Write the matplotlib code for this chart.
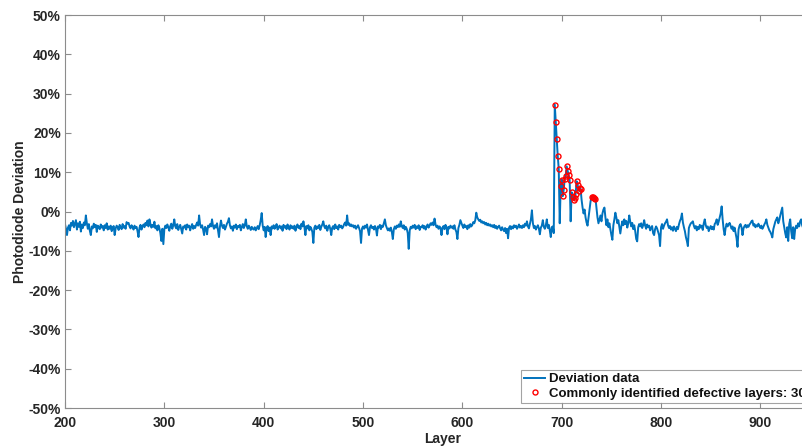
import numpy as np
import matplotlib
matplotlib.use("Agg")
import matplotlib.pyplot as plt
from matplotlib.ticker import FuncFormatter

plt.rcParams["font.family"] = ["Liberation Sans", "DejaVu Sans"]
plt.rcParams["font.weight"] = "bold"

# photodiode deviation per layer, in percent
dev_200 = [
    -3.2, -4.5, -6.0, -4.1, -3.5, -4.8, -2.9, -3.6, -2.4, -4.0,
    -3.1, -2.2, -4.6, -3.0, -3.9, -2.6, -5.1, -3.3, -4.2, -2.8,
    -3.5, -1.0, -3.0, -4.4, -3.2, -4.9, -6.0, -3.8, -4.3, -3.1,
    -4.0, -3.4, -5.2, -3.6, -3.9, -4.5, -3.3, -4.1, -3.7, -4.8,
    -3.5, -4.2, -3.0, -4.6, -3.8, -4.4, -3.6, -5.0, -4.1, -3.7,
    -6.0, -4.3, -3.6, -4.0, -4.7, -3.4, -3.9, -4.5, -3.2, -4.1,
    -3.7, -4.4, -2.7, -3.1, -2.9, -3.8, -4.3, -3.5, -4.0, -4.6,
    -3.6, -4.2, -3.9, -5.0, -6.5, -4.1, -3.4, -4.6, -3.8, -3.3,
    -4.0, -2.9, -3.5, -2.3, -3.8, -2.0, -3.2, -4.1, -3.4, -3.9,
    -2.6, -4.3, -3.7, -4.8, -3.5, -4.2, -5.5, -7.5, -4.4, -8.3,
]
dev_300 = [
    -4.5, -3.6, -4.2, -3.3, -4.0, -4.9, -3.7, -3.1, -4.4, -3.5,
    -2.0, -3.8, -4.3, -3.2, -4.7, -3.9, -3.4, -4.5, -5.6, -3.8,
    -4.1, -3.5, -4.6, -3.3, -4.0, -3.6, -4.8, -3.9, -3.2, -4.4,
    -3.7, -4.2, -3.4, -2.8, -3.6, -1.0, -3.3, -4.1, -3.5, -4.6,
    -6.0, -3.9, -4.3, -5.8, -3.6, -4.0, -3.2, -3.8, -2.0, -3.7,
    -4.4, -3.5, -4.1, -3.0, -4.7, -6.5, -3.8, -2.3, -3.6, -4.2,
    -3.4, -4.6, -3.9, -3.1, -2.6, -1.7, -3.5, -4.3, -3.8, -4.9,
    -3.6, -4.1, -3.3, -4.5, -3.7, -4.0, -3.4, -4.8, -3.9, -3.2,
    -4.2, -3.5, -2.0, -3.8, -4.4, -3.6, -4.1, -4.7, -3.9, -4.4,
    -4.6, -4.0, -4.8, -4.3, -3.7, -4.5, -3.5, -2.2, -0.4, -3.6,
]
dev_400 = [
    -4.8, -3.9, -6.5, -4.2, -3.7, -5.0, -4.1, -6.0, -3.8, -4.3,
    -3.5, -4.4, -3.9, -3.2, -4.6, -4.0, -3.6, -4.3, -3.8, -4.9,
    -3.4, -4.1, -3.7, -4.5, -3.3, -4.0, -4.6, -3.5, -4.2, -3.8,
    -4.4, -3.6, -4.9, -3.9, -3.3, -4.2, -3.7, -4.5, -3.1, -3.8,
    -2.5, -4.0, -6.0, -3.7, -4.3, -3.5, -4.8, -3.9, -4.4, -5.2,
    -8.0, -4.1, -3.6, -4.5, -3.8, -4.2, -3.4, -4.7, -3.9, -3.3,
    -2.5, -3.8, -4.3, -3.6, -4.9, -4.0, -3.5, -4.4, -6.0, -4.1,
    -3.7, -4.5, -3.3, -4.2, -3.8, -4.6, -3.4, -4.0, -3.6, -4.3,
    -3.9, -3.2, -2.8, -3.6, -1.0, -3.4, -3.0, -3.7, -3.3, -3.8,
    -3.5, -4.1, -3.6, -4.4, -3.9, -3.5, -4.2, -5.0, -8.0, -4.3,
]
dev_500 = [
    -3.8, -4.4, -3.6, -4.1, -3.3, -4.7, -6.0, -4.0, -3.5, -4.2,
    -3.9, -4.6, -3.7, -4.3, -6.1, -3.8, -4.1, -3.4, -4.5, -3.6,
    -3.9, -3.0, -2.0, -3.5, -4.2, -4.8, -4.3, -4.9, -4.1, -5.2,
    -7.0, -4.5, -3.8, -4.4, -3.6, -4.0, -3.3, -3.9, -2.5, -3.7,
    -4.2, -3.5, -4.6, -3.9, -4.4, -5.5, -9.5, -4.8, -3.9, -4.3,
    -3.6, -4.1, -3.4, -4.5, -3.8, -4.2, -3.5, -4.7, -3.9, -4.0,
    -3.5, -4.3, -3.7, -4.6, -3.9, -3.3, -4.1, -3.6, -3.0, -3.4,
    -2.8, -3.5, -1.8, -3.3, -4.0, -3.6, -4.4, -3.8, -4.2, -6.0,
    -4.1, -3.7, -4.5, -3.4, -4.0, -5.8, -3.9, -4.3, -3.6, -4.1,
    -3.8, -4.4, -3.5, -4.6, -5.2, -7.0, -4.2, -3.4, -2.2, -2.9,
]
dev_600 = [
    -3.6, -4.2, -3.3, -4.0, -3.7, -4.5, -3.5, -4.1, -3.2, -3.8,
    -3.4, -2.7, -3.0, -2.2, -0.3, -1.5, -2.0, -2.4, -2.1, -2.8,
    -2.5, -3.0, -2.7, -3.3, -2.9, -3.5, -3.1, -3.6, -3.3, -3.8,
    -3.5, -4.0, -3.4, -4.2, -3.7, -4.4, -3.9, -3.6, -4.3, -4.8,
    -4.0, -4.6, -5.0, -4.2, -5.5, -4.4, -6.8, -4.1, -3.7, -4.5,
    -3.8, -4.3, -3.5, -4.0, -3.6, -4.4, -3.9, -3.3, -4.1, -3.7,
    -4.2, -3.5, -4.0, -3.1, -3.6, -2.5, -3.8, -4.3, -3.2, -2.0,
    0.3, -3.0, -4.2, -3.7, -4.6, -4.0, -3.5, -4.3, -5.8, -4.1,
    -3.6, -2.2, -3.9, -4.4, -3.5, -2.0, -4.2, -3.4, -4.8, -6.5,
    -4.0, -3.8, -5.5, 27.2, 22.8, 18.5, 14.1, 10.9, -3.0, 6.6,
]
dev_700 = [
    8.1, 3.9, 5.5, 8.3, 9.0, 11.5, 10.4, 9.2, 8.0, -2.5,
    4.9, 3.8, 3.0, 3.5, 4.5, 7.7, 6.8, 5.3, 5.9, 5.8,
    3.0, 1.0, -0.5, 0.5, -1.5, -2.8, -3.6, -1.5, 0.8, 2.5,
    3.8, 3.6, 3.5, 3.4, 3.3, 1.0, -1.5, -3.0, -2.0, -1.0,
    -2.5, -0.5, 0.5, 1.0, -1.5, -3.5, -2.0, -4.0, -3.0, -4.5,
    -6.0, -7.2, -3.5, -2.0, -0.3, -1.5, -3.0, -2.2, -4.0, -5.6,
    -3.8, -2.5, -3.5, -2.0, -3.2, -2.4, -4.1, -3.0, -1.0, -2.6,
    -3.8, -2.9, -4.5, -3.5, -5.0, -7.0, -7.6, -4.0, -3.2, -3.8,
    -3.0, -4.2, -3.5, -2.2, -3.6, -4.4, -3.3, -4.0, -3.6, -4.8,
    -4.1, -3.7, -5.5, -6.0, -4.5, -3.8, -4.3, -5.2, -6.0, -8.8,
]
dev_800 = [
    -4.0, -3.2, -4.4, -3.6, -3.0, -2.6, -2.0, -3.5, -4.2, -3.7,
    -4.6, -4.0, -4.9, -3.8, -4.4, -5.0, -3.9, -4.5, -3.3, -2.4,
    -1.8, -0.5, -2.8, -4.0, -5.0, -6.5, -7.5, -8.8, -4.2, -3.5,
    -3.0, -2.8, -2.5, -3.6, -4.3, -3.7, -4.8, -3.9, -4.5, -3.4,
    -4.1, -3.6, -4.7, -3.0, -2.0, -3.5, -4.2, -3.8, -5.0, -4.3,
    -3.7, -4.5, -3.9, -4.6, -3.2, -2.8, -2.0, -3.4, -2.6, -1.5,
    -0.5, 1.3, -2.0, -4.5, -6.0, -4.2, -3.1, -3.8, -3.3, -2.9,
    -3.6, -4.4, -3.8, -5.0, -4.1, -5.5, -6.8, -9.0, -4.6, -3.6,
    -3.2, -4.0, -6.0, -4.3, -3.7, -3.4, -4.1, -3.5, -3.9, -3.3,
    -3.0, -2.5, -2.3, -3.6, -3.2, -4.0, -3.5, -3.8, -3.1, -3.7,
]
dev_900 = [
    -4.2, -3.6, -4.4, -3.9, -3.3, -2.8, -2.0, -3.4, -4.1, -4.8,
    -5.2, -5.8, -6.6, -4.5, -3.5, -2.6, -2.0, -1.5, -3.0, -2.2,
    -1.0, 0.0, 1.0, -2.5, -4.0, -5.5, -6.6, -4.0, -7.5, -3.2,
    -2.0, -5.0, -6.8, -4.0, -7.0, -4.5, -3.6, -4.2, -3.0, -3.8,
    -2.5, -2.0, -3.5, -4.2, -3.6, -4.0, -3.3, -4.5, -3.8, -4.1,
    -3.4, -4.3, -3.7, -4.0, -3.5, -4.6, -3.9, -4.2, -3.6, -4.4,
    -3.8,
]

# layers flagged as defective by every method
defect_layers = (list(range(693, 698)) + list(range(699, 709))
                 + list(range(710, 720)) + list(range(730, 735)))

deviation = np.array(dev_200 + dev_300 + dev_400 + dev_500
                     + dev_600 + dev_700 + dev_800 + dev_900) / 100.0
layers = np.arange(200, 200 + len(deviation))
defect_dev = deviation[np.searchsorted(layers, defect_layers)]

fig = plt.figure(figsize=(8.03, 4.46), dpi=100)
ax = fig.add_axes([65 / 803, 38 / 446, 755 / 803, 393 / 446])

ax.plot(layers, deviation, color="#0072BD", lw=1.4,
        label="Deviation data")
ax.plot(defect_layers, defect_dev, "o", ls="none", ms=3.6,
        mfc="none", mec="#FF0000", mew=1.0,
        label=f"Commonly identified defective layers: {len(defect_layers)}")

# ticks first: set_xticks would otherwise widen the view limits
ax.set_xticks(np.arange(200, 951, 100))
ax.set_yticks(np.arange(-0.5, 0.51, 0.1))
ax.set_xlim(200, 960)
ax.set_ylim(-0.5, 0.5)
ax.yaxis.set_major_formatter(
    FuncFormatter(lambda v, _: f"{round(v * 100) + 0:d}%"))

for s in ax.spines.values():
    s.set_color("#8c8c8c")
    s.set_linewidth(0.8)
ax.tick_params(direction="in", length=4, width=0.8, color="#8c8c8c",
               labelsize=10, labelcolor="#262626", top=True, right=True)
ax.tick_params(axis="x", pad=6)
ax.tick_params(axis="y", pad=3)
for lab in ax.get_xticklabels() + ax.get_yticklabels():
    lab.set_fontweight("bold")

ax.set_xlabel("Layer", fontsize=10, fontweight="bold", color="#262626", labelpad=1)
ax.set_ylabel("Photodiode Deviation", fontsize=10, fontweight="bold",
              color="#262626", labelpad=1)

leg = ax.legend(loc="lower left", bbox_to_anchor=(521 / 803, 43 / 446),
                bbox_transform=fig.transFigure, fontsize=9.5, frameon=True,
                fancybox=False, edgecolor="#8c8c8c", handlelength=1.6,
                handletextpad=0.3, borderpad=0.25, labelspacing=0.15,
                borderaxespad=0)
leg.get_frame().set_linewidth(0.8)
for t in leg.get_texts():
    t.set_fontweight("bold")
    t.set_color("#111111")

fig.savefig("out.png", dpi=100)
